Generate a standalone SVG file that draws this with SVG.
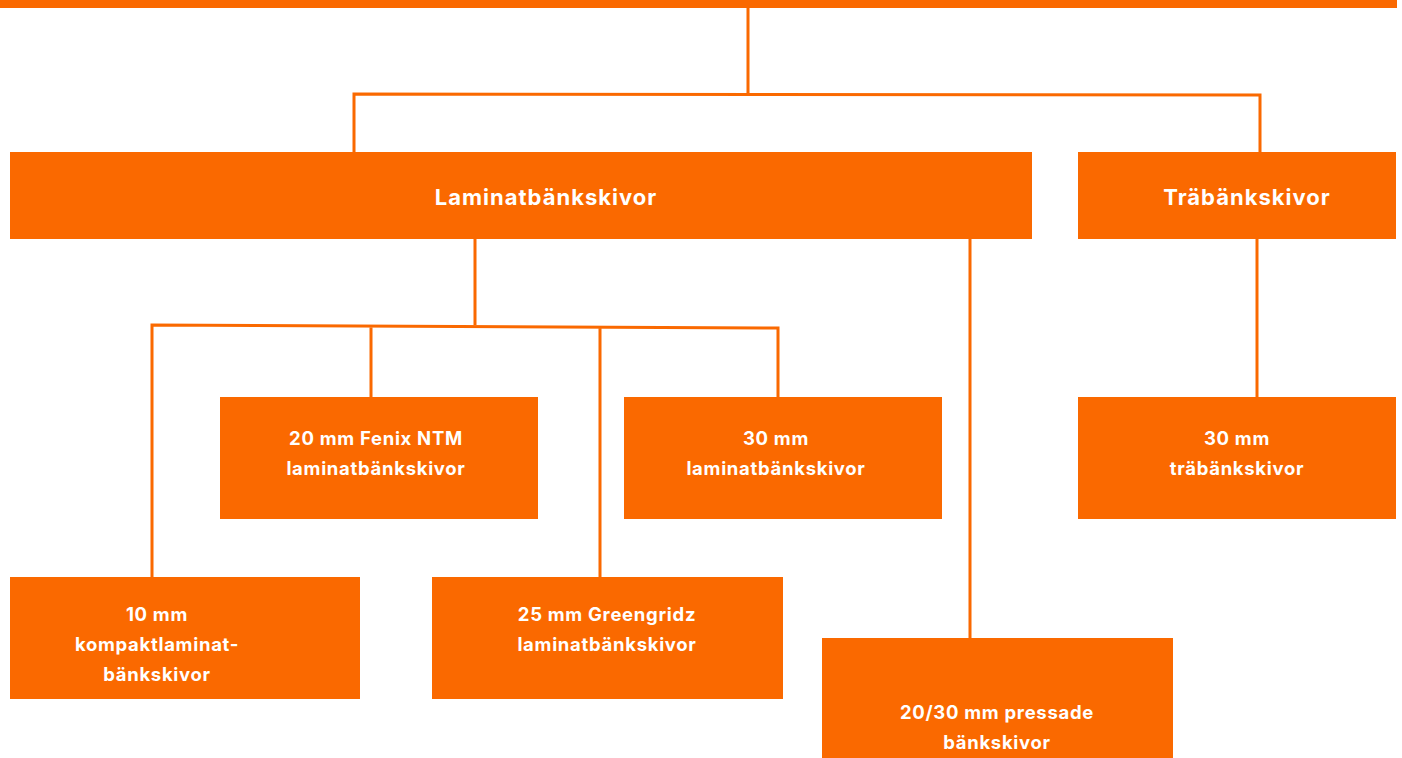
<svg xmlns="http://www.w3.org/2000/svg" width="1402" height="758" viewBox="0 0 1402 758">
<style>
.box{fill:#FA6900}
.ln{stroke:#FA6900;stroke-width:3;fill:none}
.t{font-family:Inter,"Liberation Sans",sans-serif;font-weight:700;fill:#fff;text-anchor:middle}
.h{font-size:22px;letter-spacing:1px}
.s{font-size:18.5px;letter-spacing:0.7px}
</style>
<rect width="1402" height="758" fill="#fff"/>
<g id="connectors">
<path class="ln" d="M748 8V94M354 152V94L1260 95V152"/>
<path class="ln" d="M475 239V325M152 577V325L778 328V397M371 325V397M600 327V577"/>
<path class="ln" d="M970 239V638"/>
<path class="ln" d="M1257 239V397"/>
</g>
<g id="top"><rect class="box" x="0" y="0" width="1397" height="8"/></g>
<g id="laminat"><rect class="box" x="10" y="152" width="1022" height="87"/><text class="t h" x="546" y="205">Laminatbänkskivor</text></g>
<g id="tra"><rect class="box" x="1078" y="152" width="318" height="87"/><text class="t h" x="1247" y="205">Träbänkskivor</text></g>
<g id="fenix"><rect class="box" x="220" y="397" width="318" height="122"/><text class="t s" x="376" y="445">20 mm Fenix NTM</text><text class="t s" x="376" y="475">laminatbänkskivor</text></g>
<g id="lam30"><rect class="box" x="624" y="397" width="318" height="122"/><text class="t s" x="776" y="445">30 mm</text><text class="t s" x="776" y="475">laminatbänkskivor</text></g>
<g id="tra30"><rect class="box" x="1078" y="397" width="318" height="122"/><text class="t s" x="1237" y="445">30 mm</text><text class="t s" x="1237" y="475">träbänkskivor</text></g>
<g id="kompakt"><rect class="box" x="10" y="577" width="350" height="122"/><text class="t s" x="157" y="621">10 mm</text><text class="t s" x="157" y="651">kompaktlaminat-</text><text class="t s" x="157" y="681">bänkskivor</text></g>
<g id="greengridz"><rect class="box" x="432" y="577" width="351" height="122"/><text class="t s" x="607" y="621">25 mm Greengridz</text><text class="t s" x="607" y="651">laminatbänkskivor</text></g>
<g id="pressade"><rect class="box" x="822" y="638" width="351" height="125"/><text class="t s" x="997" y="719">20/30 mm pressade</text><text class="t s" x="997" y="749">bänkskivor</text></g>
</svg>
